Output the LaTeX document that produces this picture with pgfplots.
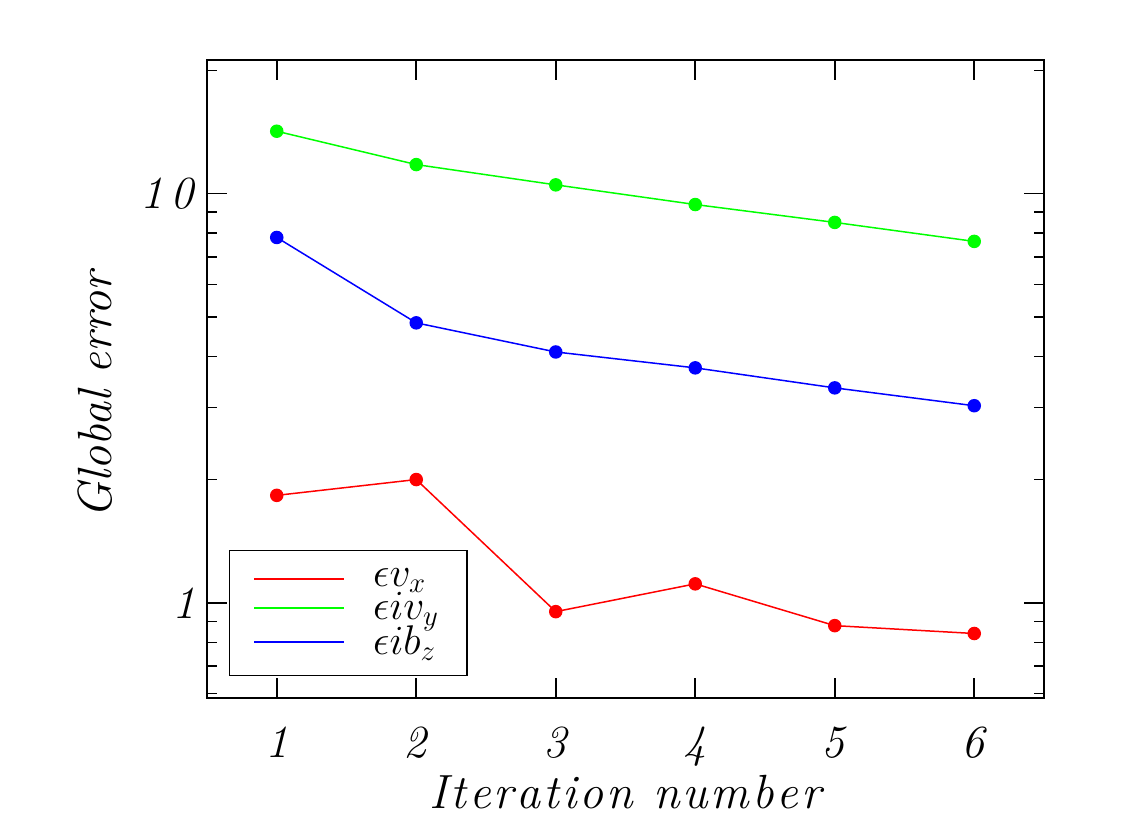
\documentclass[border=0pt]{standalone}
\usepackage{pgfplots}
\pgfplotsset{compat=1.18}
% small gap between letters of the x label
\newcommand\lk{\kern1.5pt}
\begin{document}
\begin{tikzpicture}
\begin{axis}[
  scale only axis,
  width=418.5pt, height=319pt,
  ymode=log,
  xmin=0.5, xmax=6.5,
  ymin=0.585, ymax=21.2,
  xtick={1,2,3,4,5,6},
  xticklabels={\textit{1},\textit{2},\textit{3},\textit{4},\textit{5},\textit{6}},
  ytick={1,10},
  yticklabels={\textit{1},\textit{1\,0}},
  minor ytick={0.6,0.7,0.8,0.9,2,3,4,5,6,7,8,9,20},
  tick align=inside,
  major tick length=10pt,
  minor tick length=5pt,
  axis line style={line width=1pt},
  every tick/.style={black, line width=0.8pt},
  tick label style={font=\fontsize{23}{28}\selectfont},
  xticklabel style={yshift=-11pt},
  yticklabel style={xshift=-2pt},
  xlabel={I\lk t\lk e\lk r\lk a\lk t\lk i\lk o\lk n\hspace{10pt}n\lk u\lk m\lk b\lk e\lk r},
  ylabel={Global error},
  every axis x label/.style={at={(rel axis cs:0.5,-0.147)}, anchor=center,
    font=\fontsize{24}{28}\selectfont\itshape},
  every axis y label/.style={at={(rel axis cs:-0.134,0.475)}, anchor=center, rotate=90,
    font=\fontsize{24}{28}\selectfont\itshape},
  legend style={at={(rel axis cs:0.026,0.034)}, anchor=south west,
    draw=black, line width=0.8pt, font=\fontsize{20}{15}\selectfont,
    inner xsep=12pt, inner ysep=7pt, row sep=-2.5pt},
  legend cell align=left,
  legend image code/.code={\draw[#1, line width=0.9pt] (0pt,0pt) -- (45pt,0pt);
    \path (57pt,0pt);},
  every axis plot/.append style={line width=0.75pt, mark=*, mark size=3pt},
]
\addplot[color=red, mark options={fill=red, draw=red}] coordinates {
  (1,1.83) (2,2.00) (3,0.951) (4,1.112) (5,0.879) (6,0.841)};
\addlegendentry{$\epsilon v_x$}
\addplot[color=green, mark options={fill=green, draw=green}] coordinates {
  (1,14.2) (2,11.77) (3,10.5) (4,9.40) (5,8.50) (6,7.64)};
\addlegendentry{$\epsilon i v_y$}
\addplot[color=blue, mark options={fill=blue, draw=blue}] coordinates {
  (1,7.81) (2,4.83) (3,4.10) (4,3.75) (5,3.35) (6,3.03)};
\addlegendentry{$\epsilon i b_z$}
\end{axis}
\pgfresetboundingbox
\path[use as bounding box] ([shift={(-103.5pt,-58.5pt)}]current axis.south west)
  rectangle ([shift={(51pt,30pt)}]current axis.north east);
\end{tikzpicture}
\end{document}
